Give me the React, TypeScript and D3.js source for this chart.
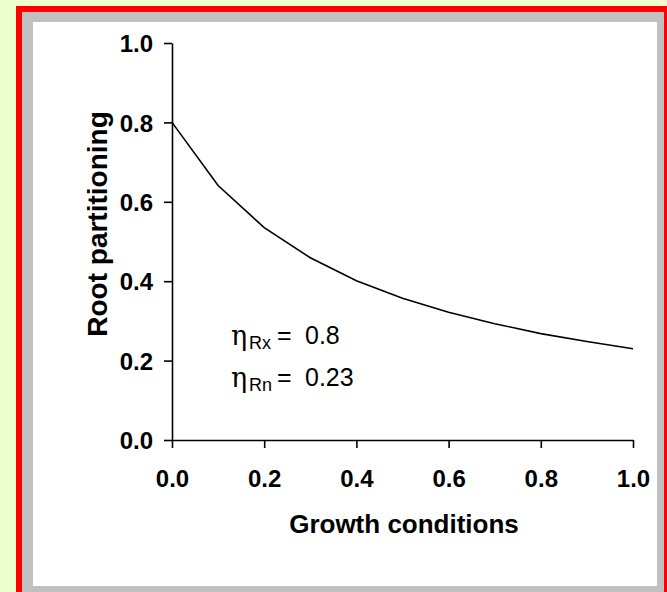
import React, { useEffect, useRef } from "react";
import * as d3 from "d3";

// growth conditions (x) and root partitioning (y)
const growth = [0, 0.1, 0.2, 0.3, 0.4, 0.5, 0.6, 0.7, 0.8, 0.9, 1.0];
const rootPartitioning = [0.8, 0.641, 0.535, 0.459, 0.401, 0.357, 0.322, 0.293, 0.268, 0.248, 0.23];
const xTicks = [0, 0.2, 0.4, 0.6, 0.8, 1.0];
const yTicks = [0, 0.2, 0.4, 0.6, 0.8, 1.0];

const App: React.FC = () => {
  const svgRef = useRef<SVGSVGElement | null>(null);

  useEffect(() => {
    if (!svgRef.current) return;

    const width = 667;
    const height = 592;
    const font = "'Liberation Sans', Arial, sans-serif";

    d3.select(svgRef.current).selectAll("*").remove();

    const svg = d3
      .select(svgRef.current)
      .attr("width", width)
      .attr("height", height);

    // frame: page background, red border, grey mat, white panel
    svg.append("rect").attr("width", width).attr("height", height).attr("fill", "#EDFFCC");
    svg.append("rect").attr("x", 16).attr("y", 6).attr("width", 660).attr("height", 600).attr("fill", "#FF0000");
    svg.append("rect").attr("x", 22).attr("y", 12).attr("width", 642).attr("height", 590).attr("fill", "#C0C0C0");
    svg.append("rect").attr("x", 33).attr("y", 22).attr("width", 624).attr("height", 564).attr("fill", "#FFFFFF");

    // Scales
    const xScale = d3.scaleLinear().domain([0, 1]).range([172, 633]);
    const yScale = d3.scaleLinear().domain([0, 1]).range([440, 43]);

    // Axes
    const xAxis = svg
      .append("g")
      .attr("transform", `translate(0, ${yScale(0)})`)
      .call(
        d3.axisBottom(xScale).tickValues(xTicks).tickSizeInner(8).tickSizeOuter(0).tickFormat(d3.format(".1f"))
      );
    xAxis
      .selectAll("text")
      .attr("y", 47)
      .attr("dy", "0")
      .style("font-family", font)
      .style("font-weight", "bold")
      .style("font-size", "24px")
      .attr("fill", "#000");

    const yAxis = svg
      .append("g")
      .attr("transform", `translate(${xScale(0)}, 0)`)
      .call(
        d3.axisLeft(yScale).tickValues(yTicks).tickSizeInner(8).tickSizeOuter(0).tickFormat(d3.format(".1f"))
      );
    yAxis
      .selectAll("text")
      .attr("x", -19)
      .attr("dy", "0.36em")
      .style("font-family", font)
      .style("font-weight", "bold")
      .style("font-size", "24px")
      .attr("fill", "#000");

    svg.selectAll(".domain, .tick line").attr("stroke", "#000").attr("stroke-width", 1.6);

    // Curve
    const line = d3
      .line<number>()
      .x((_, i) => xScale(growth[i]))
      .y(d => yScale(d));

    svg
      .append("path")
      .datum(rootPartitioning)
      .attr("d", line)
      .attr("fill", "none")
      .attr("stroke", "#000")
      .attr("stroke-width", 1.6);

    // Axis titles
    svg
      .append("text")
      .attr("x", 404)
      .attr("y", 533)
      .attr("text-anchor", "middle")
      .style("font-family", font)
      .style("font-weight", "bold")
      .style("font-size", "26px")
      .text("Growth conditions");

    svg
      .append("text")
      .attr("transform", `translate(107, 224) rotate(-90)`)
      .attr("text-anchor", "middle")
      .style("font-family", font)
      .style("font-weight", "bold")
      .style("font-size", "28px")
      .text("Root partitioning");

    // Parameter annotation
    const notes = [
      { sub: "Rx", value: "0.8", y: 344 },
      { sub: "Rn", value: "0.23", y: 386 }
    ];
    notes.forEach(n => {
      svg
        .append("text")
        .attr("x", 231)
        .attr("y", n.y + 1)
        .style("font-family", "'DejaVu Serif', 'Liberation Serif', serif")
        .style("font-size", "27px")
        .text("η");
      svg
        .append("text")
        .attr("x", 249)
        .attr("y", n.y + 5)
        .style("font-family", font)
        .style("font-size", "18px")
        .text(n.sub);
      svg
        .append("text")
        .attr("x", 277)
        .attr("y", n.y)
        .style("font-family", font)
        .style("font-size", "25px")
        .text("=");
      svg
        .append("text")
        .attr("x", 305)
        .attr("y", n.y)
        .style("font-family", font)
        .style("font-size", "25px")
        .text(n.value);
    });
  }, []);

  return (
    <div style={{ position: "absolute", left: 0, top: 0 }}>
      <svg ref={svgRef} style={{ display: "block" }}></svg>
    </div>
  );
};

export default App;
